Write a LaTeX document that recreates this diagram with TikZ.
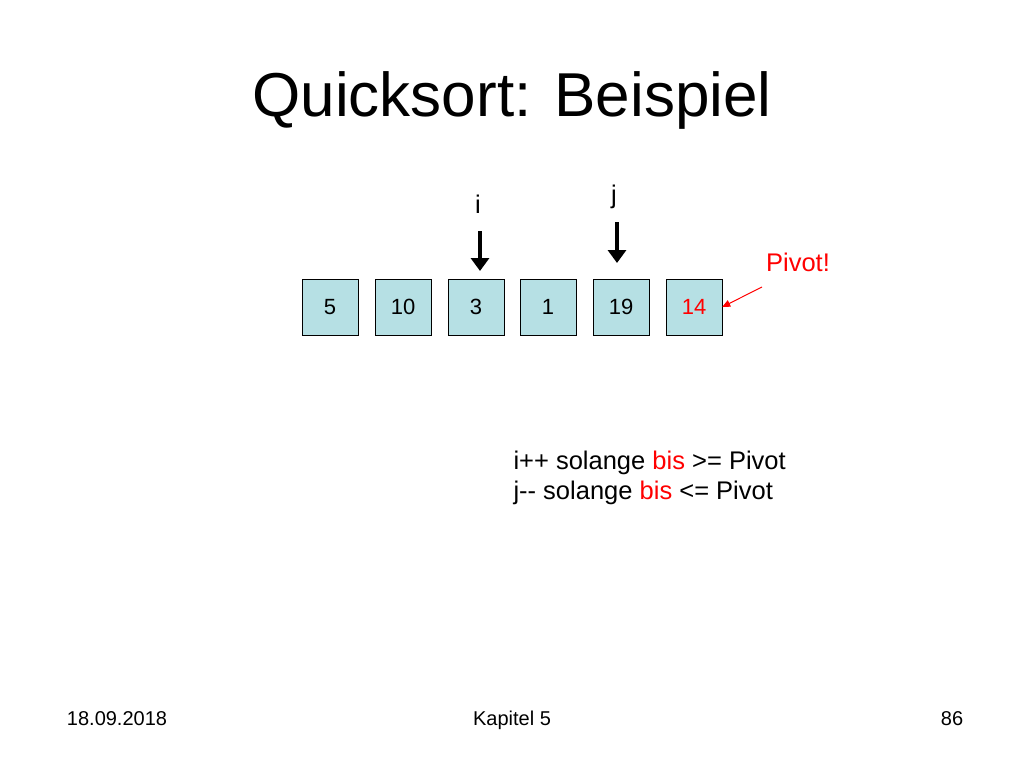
\documentclass[tikz,border=0pt]{standalone}
\usepackage{fontspec}
\setmainfont{Liberation Sans}
\usetikzlibrary{arrows.meta}
\definecolor{boxfill}{RGB}{182,224,228}
\definecolor{pivred}{RGB}{255,0,0}
\begin{document}
\begin{tikzpicture}[x=1pt,y=-1pt,
  cell/.style={draw=black,fill=boxfill,minimum width=56pt,minimum height=56pt,inner sep=0pt,font=\fontsize{22}{26}\selectfont},
  ptr/.style={line width=4pt,-{Triangle[length=13pt,width=18pt]}},
  lbl/.style={font=\fontsize{25.5}{30}\selectfont},
  foot/.style={font=\fontsize{20}{24}\selectfont,anchor=base}]
\useasboundingbox (0,0) rectangle (1024,768);
\node[font=\fontsize{62}{70}\selectfont] (title) at (512,100) {Quicksort: Beispiel};
\node[cell] (c1) at (330,307) {5};
\node[cell] (c2) at (403,307) {10};
\node[cell] (c3) at (476,307) {3};
\node[cell] (c4) at (548,307) {1};
\node[cell] (c5) at (621,307) {19};
\node[cell,text=pivred] (c6) at (694,307) {14};
\node[lbl] (il) at (478,204) {i};
\node[lbl] (jl) at (614,197) {j};
\coordinate (ia) at (480,231);
\coordinate (ib) at (480,271);
\coordinate (ja) at (617,222);
\coordinate (jb) at (617,263);
\draw[ptr] (ia) -- (ib);
\draw[ptr] (ja) -- (jb);
\node[lbl,text=pivred] (piv) at (798,262) {Pivot!};
\coordinate (pa) at (762,287);
\draw[pivred,line width=1pt,-{Triangle[length=8pt,width=7pt]}] (pa) -- (c6.east);
\node[lbl,anchor=west] (t1) at (510,463) {i++ solange \textcolor{pivred}{bis} >= Pivot};
\node[lbl,anchor=west] (t2) at (510,493) {j-{}- solange \textcolor{pivred}{bis} <= Pivot};
\node[foot] (f1) at (117,725) {18.09.2018};
\node[foot] (f2) at (512,725) {Kapitel 5};
\node[foot] (f3) at (952,725) {86};
\end{tikzpicture}
\end{document}
